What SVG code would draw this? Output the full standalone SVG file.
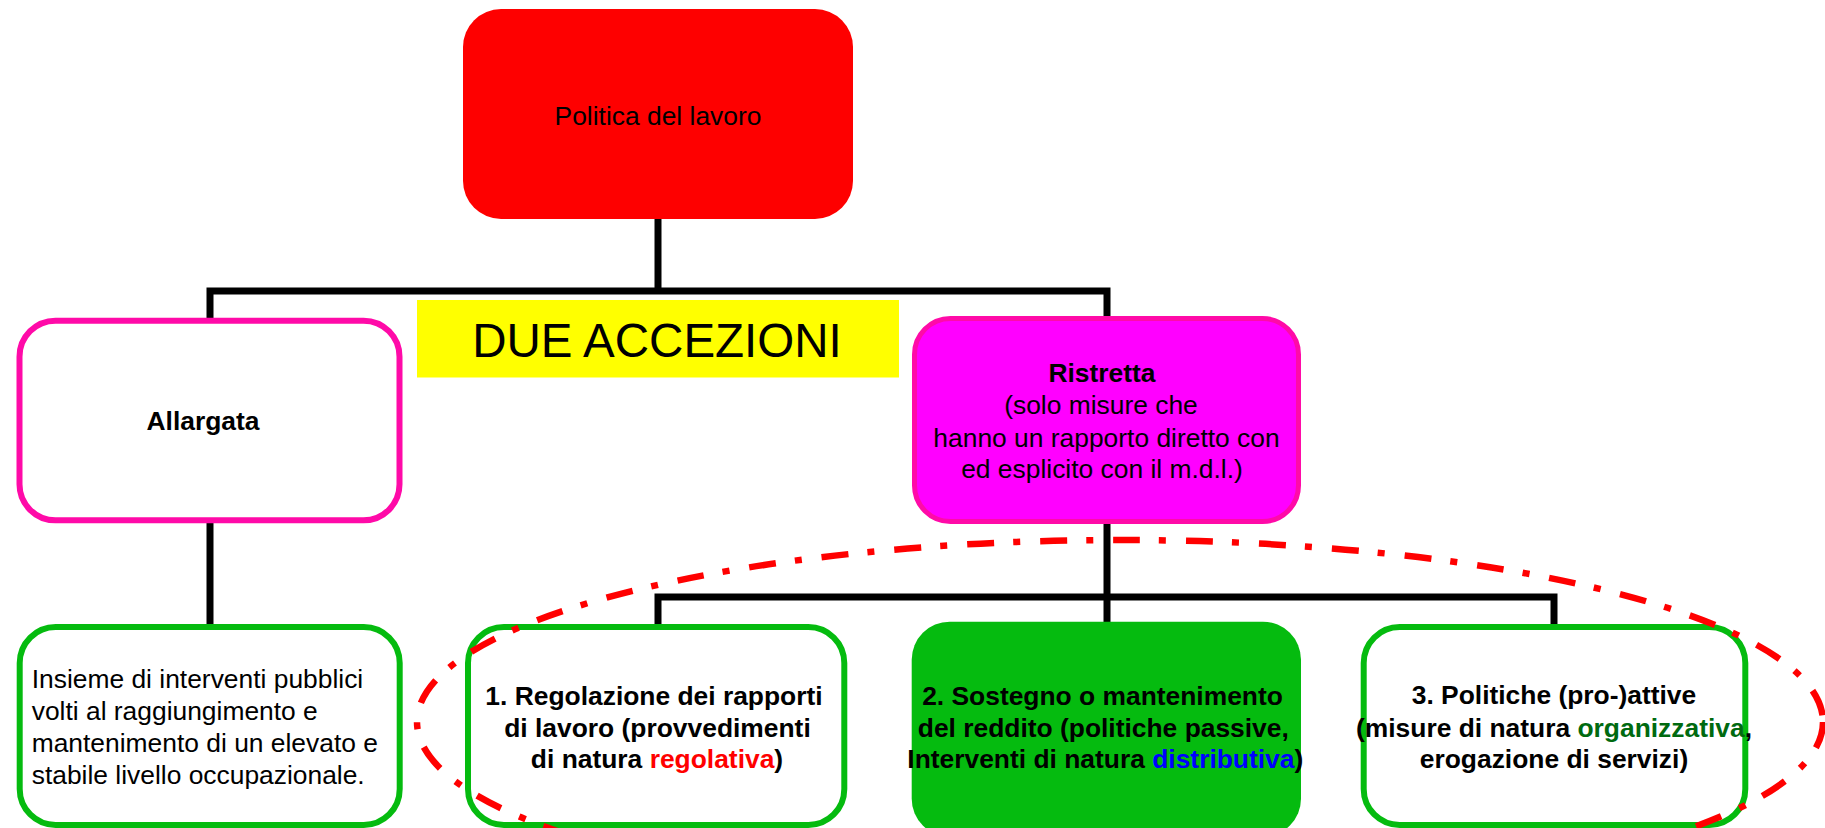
<svg xmlns="http://www.w3.org/2000/svg" width="1825" height="828" viewBox="0 0 1825 828">
  <style>
    text { font-family: "Liberation Sans", Arial, sans-serif; font-size: 26.4px; fill: #000; }
    .c { text-anchor: middle; }
    .b { font-weight: bold; }
    .conn { fill: none; stroke: #000; stroke-width: 7; stroke-linejoin: miter; stroke-linecap: butt; }
    .pink { fill: #fff; stroke: #FF0AA8; stroke-width: 6; }
    .green { fill: #fff; stroke: #05BB0F; stroke-width: 6; }
  </style>

  <g id="connectors">
    <path class="conn" d="M658,219 V291"/>
    <path class="conn" d="M210,318 V291 H1107 V316"/>
    <path class="conn" d="M210,523 V624"/>
    <path class="conn" d="M1107,524 V622"/>
    <path class="conn" d="M658,624 V597 H1554 V624"/>
  </g>

  <g id="politica">
    <rect x="463" y="9" width="390" height="210" rx="38" ry="38" fill="#FE0000"/>
    <text class="c" x="658" y="125">Politica del lavoro</text>
  </g>

  <g id="due-accezioni">
    <rect x="417" y="300" width="482" height="77.5" fill="#FFFF00"/>
    <text class="c" x="657" y="356.7" style="font-size:47.5px">DUE ACCEZIONI</text>
  </g>

  <g id="allargata">
    <rect class="pink" x="19.5" y="320.7" width="380" height="199.6" rx="36" ry="36"/>
    <text class="c b" x="203" y="430">Allargata</text>
  </g>

  <g id="ristretta">
    <rect class="pink" x="914.5" y="318.5" width="384" height="203" rx="36" ry="36" style="fill:#FF00FF;stroke-width:5"/>
    <text class="c b" x="1102" y="382.3">Ristretta</text>
    <text class="c" x="1101" y="414">(solo misure che</text>
    <text class="c" x="1106.5" y="446.7">hanno un rapporto diretto con</text>
    <text class="c" x="1102" y="478.3">ed esplicito con il m.d.l.)</text>
  </g>

  <g id="insieme">
    <rect class="green" x="19.7" y="627" width="380" height="198" rx="36" ry="36"/>
    <text x="31.7" y="688.3">Insieme di interventi pubblici</text>
    <text x="31.7" y="720">volti al raggiungimento e</text>
    <text x="31.7" y="751.7">mantenimento di un elevato e</text>
    <text x="31.7" y="784">stabile livello occupazionale.</text>
  </g>

  <g id="regolazione">
    <rect class="green" x="468" y="627" width="376.3" height="198" rx="36" ry="36"/>
    <text class="c b" x="654" y="705">1. Regolazione dei rapporti</text>
    <text class="c b" x="657.5" y="736.7">di lavoro (provvedimenti</text>
    <text class="c b" x="657" y="768.3">di natura <tspan fill="#FF0000">regolativa</tspan>)</text>
  </g>

  <g id="sostegno">
    <rect x="911.7" y="621.7" width="389.3" height="215" rx="38" ry="38" fill="#05BB0F"/>
    <text class="c b" x="1102.5" y="705">2. Sostegno o mantenimento</text>
    <text class="c b" x="1103.3" y="736.7">del reddito (politiche passive,</text>
    <text class="c b" x="1105.3" y="768.3">Interventi di natura <tspan fill="#0000FF">distributiva</tspan>)</text>
  </g>

  <g id="politiche">
    <rect class="green" x="1363.7" y="627" width="381.6" height="198" rx="36" ry="36"/>
    <text class="c b" x="1554" y="704.3">3. Politiche (pro-)attive</text>
    <text class="c b" x="1554" y="736.7">(misure di natura <tspan fill="#006A10">organizzativa</tspan>,</text>
    <text class="c b" x="1554" y="768.3">erogazione di servizi)</text>
  </g>

  <g id="highlight">
    <ellipse cx="1120" cy="722" rx="703" ry="182" fill="none" stroke="#FF0000" stroke-width="6.5" stroke-dasharray="27 19 7 20"/>
  </g>
</svg>
